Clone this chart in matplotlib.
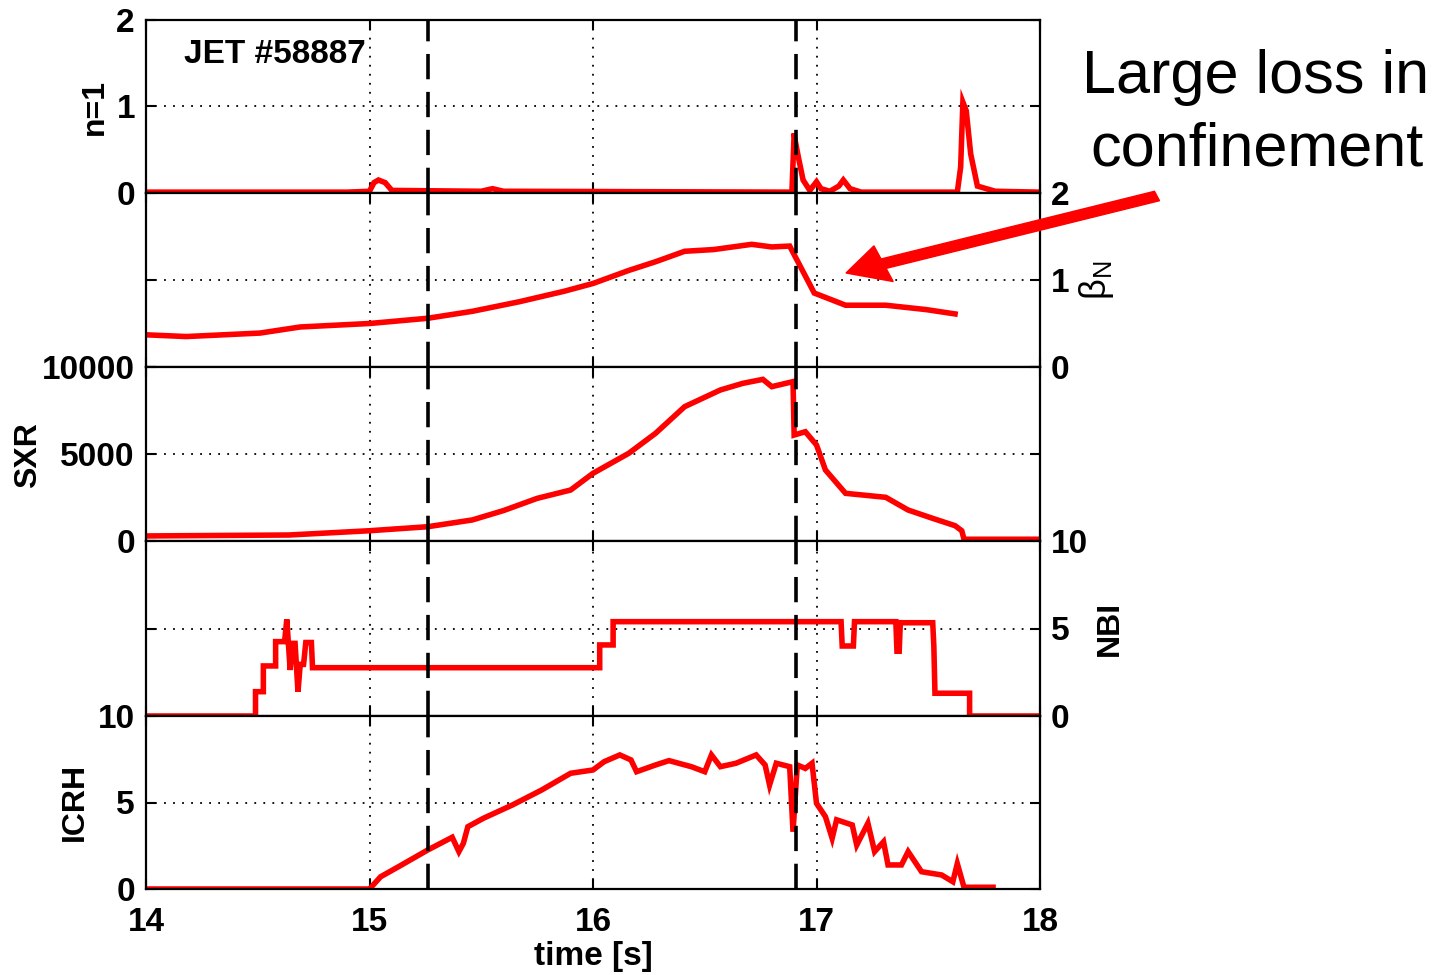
import matplotlib
matplotlib.use("Agg")
import matplotlib.pyplot as plt

plt.rcParams["font.family"] = ["Liberation Sans", "DejaVu Sans"]
plt.rcParams["font.weight"] = "bold"

# time traces (time in s)
t_n1 = [14.0, 14.9, 15.0, 15.02, 15.04, 15.07, 15.1, 15.5, 15.55, 15.6, 16.89,
        16.9, 16.905, 16.92, 16.94, 16.97, 17.0, 17.02, 17.06, 17.1, 17.12,
        17.15, 17.2, 17.63, 17.645, 17.655, 17.67, 17.69, 17.72, 17.8, 18.0]
n1 = [0.01, 0.01, 0.02, 0.12, 0.15, 0.12, 0.03, 0.02, 0.05, 0.02, 0.01,
      0.69, 0.6, 0.4, 0.15, 0.03, 0.13, 0.05, 0.02, 0.08, 0.15,
      0.05, 0.01, 0.01, 0.3, 1.05, 0.95, 0.45, 0.08, 0.02, 0.01]

t_beta = [14.0, 14.18, 14.51, 14.69, 15.0, 15.26, 15.46, 15.67, 15.87, 16.0,
          16.16, 16.28, 16.41, 16.54, 16.71, 16.8, 16.88, 16.99, 17.13,
          17.31, 17.49, 17.62]
beta = [0.37, 0.35, 0.39, 0.46, 0.5, 0.56, 0.64, 0.75, 0.87, 0.96,
        1.11, 1.21, 1.33, 1.35, 1.41, 1.38, 1.39, 0.85, 0.71,
        0.71, 0.66, 0.61]

t_sxr = [14.0, 14.64, 15.0, 15.26, 15.46, 15.6, 15.75, 15.9, 16.0, 16.16, 16.28,
         16.41, 16.57, 16.67, 16.76, 16.8, 16.895, 16.9, 16.95, 17.0, 17.04,
         17.13, 17.31, 17.41, 17.52, 17.62, 17.65, 17.66, 18.0]
sxr = [290, 345, 590, 820, 1210, 1750, 2450, 2930, 3890, 5040, 6190,
       7720, 8680, 9060, 9290, 8870, 9160, 6090, 6280, 5520, 4080,
       2740, 2510, 1780, 1300, 880, 590, 100, 100]

t_nbi = [14.0, 14.49, 14.49, 14.525, 14.525, 14.58, 14.58, 14.62, 14.63, 14.645,
         14.655, 14.667, 14.68, 14.69, 14.705, 14.715, 14.72, 14.74, 14.745,
         16.03, 16.03, 16.09, 16.09, 17.11, 17.115, 17.165, 17.17, 17.355,
         17.36, 17.37, 17.375, 17.52, 17.525, 17.53, 17.685, 17.685, 18.0]
nbi = [0.0, 0.0, 1.39, 1.39, 2.86, 2.86, 4.25, 4.25, 5.52, 2.63,
       4.15, 4.15, 1.39, 2.95, 2.95, 4.2, 4.2, 4.2, 2.76,
       2.76, 4.06, 4.06, 5.39, 5.39, 4.0, 4.0, 5.39, 5.39,
       3.7, 3.7, 5.33, 5.33, 4.0, 1.3, 1.3, 0.0, 0.0]

t_icrh = [14.0, 15.0, 15.05, 15.13, 15.26, 15.37, 15.4, 15.42, 15.44, 15.51,
          15.64, 15.77, 15.9, 16.0, 16.05, 16.12, 16.17, 16.195, 16.28, 16.34,
          16.44, 16.5, 16.53, 16.57, 16.64, 16.73, 16.77, 16.79, 16.82, 16.88,
          16.895, 16.914, 16.95, 16.98, 17.0, 17.04, 17.07, 17.09, 17.16,
          17.18, 17.23, 17.26, 17.3, 17.32, 17.38, 17.41, 17.47, 17.56,
          17.61, 17.63, 17.66, 17.79]
icrh = [0.0, 0.0, 0.71, 1.29, 2.25, 2.99, 2.16, 2.64, 3.6, 4.09,
        4.86, 5.72, 6.69, 6.88, 7.36, 7.75, 7.46, 6.78, 7.17, 7.42,
        7.07, 6.78, 7.75, 7.07, 7.27, 7.75, 7.17, 6.01, 7.27, 7.07,
        3.31, 7.17, 6.97, 7.27, 4.95, 4.18, 2.93, 4.0, 3.7,
        2.54, 3.8, 2.16, 2.73, 1.39, 1.39, 2.16, 1.0, 0.81,
        0.42, 1.47, 0.1, 0.1]

events = [15.26, 16.91]

fig = plt.figure(figsize=(14.38, 9.75), dpi=100)
W, H = 1438.0, 975.0
left, right = 146 / W, 1040 / W
edges = [20, 193, 367, 541, 716, 889]

panels = [
    (t_n1, n1, (0, 2), [0, 1, 2], "left"),
    (t_beta, beta, (0, 2), [0, 1, 2], "right"),
    (t_sxr, sxr, (0, 10000), [0, 5000, 10000], "left"),
    (t_nbi, nbi, (0, 10), [0, 5, 10], "right"),
    (t_icrh, icrh, (0, 10), [0, 5, 10], "left"),
]

axes = []
for i, (tt, yy, ylim, yt, side) in enumerate(panels):
    y0 = 1 - edges[i + 1] / H
    h = (edges[i + 1] - edges[i]) / H
    ax = fig.add_axes([left, y0, right - left, h])
    ax.plot(tt, yy, color="red", lw=4, solid_joinstyle="miter")
    for ev in events:
        ax.axvline(ev, color="black", lw=2.6, ls=(0, (7, 3.5)))
    ax.set_xlim(14, 18)
    ax.set_ylim(*ylim)
    ax.set_xticks([14, 15, 16, 17, 18])
    ax.set_yticks(yt)
    ax.grid(True, color="black", ls=(0, (1, 4)), lw=1.3)
    ax.tick_params(direction="in", length=7, width=1.5, top=True, right=True,
                   labelsize=24, pad=8)
    ax.tick_params(axis="x", pad=13)
    ax.tick_params(axis="y", labelleft=(side == "left"), labelright=(side == "right"))
    if i < 4:
        ax.tick_params(axis="x", labelbottom=False)
    for s in ax.spines.values():
        s.set_linewidth(1.6)
    axes.append(ax)

axes[-1].set_xlabel("time [s]", fontsize=24, fontweight="bold", labelpad=2)

fig.text(95 / W, 1 - 107 / H, "n=1", rotation=90, fontsize=23, fontweight="bold",
         ha="center", va="center")
fig.text(28 / W, 1 - 455 / H, "SXR", rotation=90, fontsize=23, fontweight="bold",
         ha="center", va="center")
fig.text(75 / W, 1 - 802 / H, "ICRH", rotation=90, fontsize=23, fontweight="bold",
         ha="center", va="center")
fig.text(1097 / W, 1 - 280 / H, "β$_\\mathregular{N}$", rotation=90, fontsize=26,
         fontweight="normal", ha="center", va="center")
fig.text(1110 / W, 1 - 628 / H, "NBI", rotation=90, fontsize=23, fontweight="bold",
         ha="center", va="center")

axes[0].text(0.043, 0.8, "JET #58887", transform=axes[0].transAxes, fontsize=24,
             fontweight="bold", ha="left", va="center")

fig.text(1256 / W, 1 - 78 / H, "Large loss in", fontsize=44, fontweight="normal",
         ha="center", va="center")
fig.text(1257 / W, 1 - 150 / H, "confinement", fontsize=44, fontweight="normal",
         ha="center", va="center")

fig.patches.append(matplotlib.patches.FancyArrow(
    1157 / W, 1 - 196 / H, (846 - 1157) / W, -(273 - 196) / H,
    width=10 / H, head_width=38 / H, head_length=40 / W, length_includes_head=True,
    color="red", transform=fig.transFigure, figure=fig))

fig.savefig("out.png", dpi=100)
